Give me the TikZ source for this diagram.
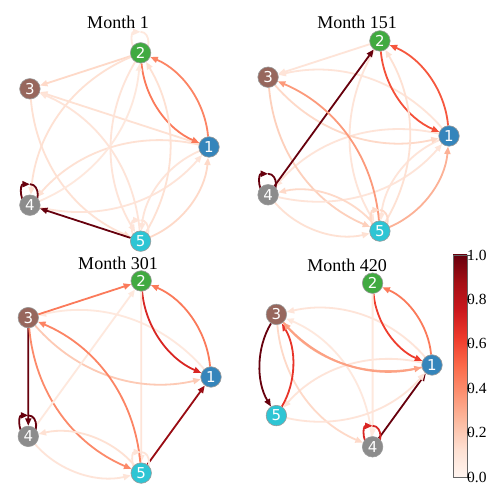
\documentclass[tikz,border=0pt]{standalone}
\usepackage{fontspec}
\setmainfont{Liberation Serif}
\newfontfamily\dejavu{DejaVu Sans}
\usetikzlibrary{calc,arrows.meta}
\definecolor{R0}{HTML}{FFF5F0}
\definecolor{R1}{HTML}{FEE0D2}
\definecolor{R2}{HTML}{FCBBA1}
\definecolor{R3}{HTML}{FC9272}
\definecolor{R4}{HTML}{FB6A4A}
\definecolor{R5}{HTML}{EF3B2C}
\definecolor{R6}{HTML}{CB181D}
\definecolor{R7}{HTML}{A50F15}
\definecolor{R8}{HTML}{67000D}
\definecolor{tb}{HTML}{1F77B4}
\definecolor{tg}{HTML}{2CA02C}
\definecolor{tr}{HTML}{8C564B}
\definecolor{tk}{HTML}{7F7F7F}
\definecolor{tc}{HTML}{17BECF}
\colorlet{c1}{tb!90!white}
\colorlet{c2}{tg!90!white}
\colorlet{c3}{tr!90!white}
\colorlet{c4}{tk!90!white}
\colorlet{c5}{tc!90!white}
\pgfdeclarelayer{edges}
\pgfsetlayers{edges,main}
\newcommand\setw[1]{%
  \pgfmathsetmacro\wk{int(min(floor(#1*8),7))}%
  \pgfmathsetmacro\wf{(#1*8-\wk)*100}%
  \pgfmathsetmacro\wkn{int(\wk+1)}%
  \colorlet{ecol}{R\wkn!\wf!R\wk}%
}
\newcommand\edg[4]{%
  \setw{#3}%
  \coordinate (mm) at ($(#1)!0.5!(#2)$);
  \coordinate (cc) at ($(mm)!{2*#4}!-90:(#2)$);
  \draw[edgest, draw=ecol] (#1) .. controls ($(#1)!2/3!(cc)$) and ($(#2)!2/3!(cc)$) .. (#2);
}
\newcommand\sloop[2]{%
  \setw{#2}%
  \draw[edgest, draw=ecol] ($(#1.center)+(0,21)$) .. controls ($(#1.center)+(10.5,21)$) and ($(#1.center)+(10.5,0)$) .. (#1.center) .. controls ($(#1.center)+(-10.5,0)$) and ($(#1.center)+(-10.5,21)$) .. ($(#1.center)+(0,21)$);
}
\newcommand\pent[4]{%
  \foreach \k in {1,...,5}{
    \node[nd, fill=c\k] (#1\k) at ($(#2,#3)+({72*(\k-1)}:#4)$) {\k};
  }
}
\begin{document}
\begin{tikzpicture}[x=1pt,y=1pt,
  nd/.style={circle, minimum size=20.5pt, inner sep=0pt, draw=black!40, line width=0.6pt, text=white, font=\dejavu\fontsize{15}{15}\selectfont},
  edgest/.style={line width=1.8pt, -{Triangle[length=7.5pt,width=6pt]}},
  ttl/.style={font=\fontsize{18}{18}\selectfont, anchor=base},
  tick/.style={font=\fontsize{15.5}{16}\selectfont, anchor=east, inner sep=0pt}]
\useasboundingbox (0,0) rectangle (487,487);
% titles
\node[ttl] (t1) at (118,458.5) {Month 1};
\node[ttl] (t2) at (357,458.5) {Month 151};
\node[ttl] (t3) at (118,217.5) {Month 301};
\node[ttl] (t4) at (347,215) {Month 420};
% nodes
\pent{a}{110}{340}{99}
\pent{b}{349}{351}{100}
\pent{c}{110}{110}{101}
\node[nd, fill=c1] (d1) at (432,122) {1};
\node[nd, fill=c2] (d2) at (372.6,203.8) {2};
\node[nd, fill=c3] (d3) at (276.4,172.6) {3};
\node[nd, fill=c5] (d5) at (276.4,71.4) {5};
\node[nd, fill=c4] (d4) at (372.6,40.2) {4};
\begin{pgfonlayer}{edges}
\fill[white] (0,0) rectangle (487,487);
% Month 1
\edg{a1}{a2}{.42}{.3}
\edg{a1}{a3}{.12}{0}
\edg{a1}{a4}{.12}{.3}
\edg{a1}{a5}{.10}{.3}
\edg{a2}{a1}{.45}{.3}
\edg{a2}{a3}{.15}{0}
\edg{a2}{a4}{.12}{.3}
\edg{a2}{a5}{.10}{.3}
\edg{a3}{a5}{.12}{.3}
\edg{a4}{a1}{.10}{.3}
\edg{a4}{a2}{.08}{.3}
\edg{a5}{a1}{.15}{.3}
\edg{a5}{a2}{.12}{.3}
\edg{a5}{a3}{.10}{.3}
\edg{a5}{a4}{1}{0}
\sloop{a4}{1}
\sloop{a2}{.08}
\sloop{a5}{.1}
% Month 151
\edg{b1}{b2}{.55}{.3}
\edg{b1}{b3}{.10}{.3}
\edg{b1}{b4}{.10}{.3}
\edg{b1}{b5}{.10}{.3}
\edg{b2}{b1}{.57}{.3}
\edg{b2}{b3}{.10}{0}
\edg{b2}{b5}{.10}{.3}
\edg{b3}{b1}{.15}{.3}
\edg{b3}{b5}{.18}{.3}
\edg{b4}{b1}{.10}{.3}
\edg{b4}{b2}{1}{0}
\edg{b4}{b5}{.12}{.3}
\edg{b5}{b1}{.28}{.3}
\edg{b5}{b2}{.12}{.3}
\edg{b5}{b3}{.35}{.3}
\edg{b5}{b4}{.15}{.3}
\sloop{b4}{1}
\sloop{b5}{.15}
% Month 301
\edg{c1}{c2}{.45}{.3}
\edg{c1}{c3}{.08}{.3}
\edg{c2}{c1}{.70}{.3}
\edg{c2}{c5}{.10}{0}
\edg{c3}{c1}{.20}{.3}
\edg{c3}{c2}{.45}{0}
\edg{c3}{c4}{1}{0}
\edg{c3}{c5}{.40}{.3}
\edg{c4}{c2}{.08}{0}
\edg{c4}{c5}{.10}{.3}
\edg{c5}{c1}{.90}{0}
\edg{c5}{c3}{.42}{.3}
\edg{c5}{c4}{.12}{.3}
\sloop{c4}{1}
\sloop{c5}{.1}
% Month 420
\edg{d1}{d2}{.45}{.3}
\edg{d1}{d3}{.10}{.3}
\edg{d1}{d5}{.10}{.3}
\edg{d2}{d1}{.62}{.3}
\edg{d2}{d4}{.08}{0}
\edg{d3}{d4}{.15}{.3}
\edg{d3}{d5}{1}{.3}
\edg{d4}{d1}{1}{0}
\edg{d4}{d3}{.08}{.3}
\edg{d5}{d1}{.10}{.3}
\edg{d5}{d3}{.65}{.3}
\edg{d1}{d3}{.30}{-.3}
\edg{d3}{d1}{.33}{.3}
\sloop{d4}{.7}
\end{pgfonlayer}
% colorbar
\foreach \i [evaluate=\i as \j using int(\i+1)] in {0,...,7}{
  \shade[bottom color=R\i, top color=R\j] (453,{10+27.75*\i}) rectangle (467,{10+27.75*(\i+1)+0.3});
}
\draw[black!60, line width=0.6pt] (453,10) rectangle (467,232);
\foreach \v/\l in {0/0.0,1/0.2,2/0.4,3/0.6,4/0.8,5/1.0}{
  \draw[black!70, line width=0.6pt] (467,{10+44.4*\v}) -- (470.5,{10+44.4*\v});
  \node[tick] (tk\v) at (486.8,{10+44.4*\v}) {\l};
}
\end{tikzpicture}
\end{document}
